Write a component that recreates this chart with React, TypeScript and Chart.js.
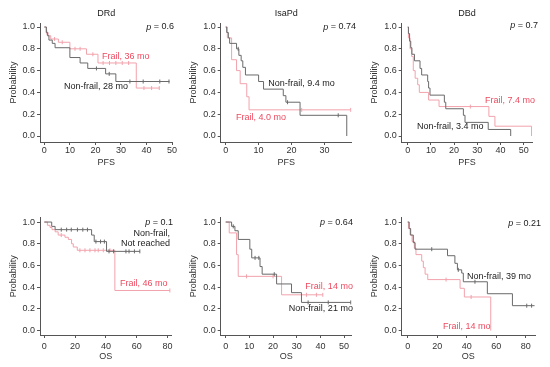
import React, { useEffect, useRef } from "react";
import { Chart, registerables } from "chart.js";
Chart.register(...registerables);

const FONT = "'Liberation Sans', Arial, sans-serif";
const GRAY = "#6a6a6a";
const PINK = "#f2a2ac";
const PINK_TEXT = "#ee4b60";
const TEXT = "#222222";
const AXIS = "#555555";

// ---------- Tick labels ----------
const yTicks = [0, 0.2, 0.4, 0.6, 0.8, 1.0];
const ticks0to50 = [0, 10, 20, 30, 40, 50];
const ticks0to30 = [0, 10, 20, 30];
const ticks0to80 = [0, 20, 40, 60, 80];

// ---------- DRd PFS ----------
const drdPfsNonT = [0, 0.8, 1.2, 1.8, 3.1, 4.2, 10, 14, 17, 24, 28, 49];
const drdPfsNonS = [1, 0.95, 0.92, 0.88, 0.85, 0.81, 0.72, 0.67, 0.62, 0.57, 0.5, 0.5];
const drdPfsNonC = [20.4, 25.4, 33.5, 38.7, 45.2, 48.8];
const drdPfsFrT = [0, 0.7, 1.5, 2.5, 5.5, 10, 16.5, 21, 36, 45];
const drdPfsFrS = [1, 0.95, 0.92, 0.89, 0.86, 0.8, 0.75, 0.67, 0.44, 0.44];
const drdPfsFrC = [1, 4, 7, 12, 14, 19, 23, 25.5, 28, 30.5, 33, 39, 42, 45];

// ---------- IsaPd PFS ----------
const isaPfsNonT = [0, 0.3, 0.8, 1.2, 3.3, 4.0, 4.7, 5.2, 6.0, 10.0, 11.5, 17.5, 18.3, 22.6, 36.8];
const isaPfsNonS = [1, 0.95, 0.9, 0.85, 0.8, 0.74, 0.69, 0.63, 0.56, 0.5, 0.43, 0.37, 0.31, 0.19, 0];
const isaPfsNonC = [3.8, 18.8, 34.2];
const isaPfsFrT = [0, 0.5, 1.8, 3.3, 4.4, 6.4, 7.1, 38];
const isaPfsFrS = [1, 0.9, 0.7, 0.6, 0.48, 0.36, 0.24, 0.24];
const isaPfsFrC = [23.1, 38];

// ---------- DBd PFS ----------
const dbdPfsNonT = [0, 0.3, 0.8, 1.3, 1.8, 2.9, 5.3, 6.0, 8.6, 9.0, 9.6, 15.8, 16.4, 24.0, 24.7, 34.7, 44.4];
const dbdPfsNonS = [1, 0.94, 0.87, 0.81, 0.75, 0.69, 0.62, 0.56, 0.5, 0.44, 0.375, 0.31, 0.25, 0.19, 0.125, 0.06, 0];
const dbdPfsNonC: number[] = [];
const dbdPfsFrT = [0, 0.3, 1.0, 1.7, 2.4, 3.2, 4.3, 5.0, 9.0, 13.5, 35.0, 37.6, 53.4];
const dbdPfsFrS = [1, 0.9, 0.8, 0.73, 0.6, 0.53, 0.47, 0.4, 0.33, 0.27, 0.18, 0.09, 0];
const dbdPfsFrC = [27];

// ---------- DRd OS ----------
const drdOsNonT = [0, 4.8, 7.0, 30.7, 32.4, 40.4, 62];
const drdOsNonS = [1, 0.96, 0.93, 0.88, 0.82, 0.73, 0.73];
const drdOsNonC = [11, 14.5, 17.5, 21.5, 25, 28, 33.5, 36.5, 39, 42, 45, 53, 55, 58.5, 62];
const drdOsFrT = [0, 2.0, 3.7, 5.0, 7.0, 9.0, 13.4, 15.6, 17.7, 18.8, 21.4, 45.8, 81.5];
const drdOsFrS = [1, 0.97, 0.95, 0.93, 0.91, 0.88, 0.86, 0.84, 0.8, 0.77, 0.74, 0.37, 0.37];
const drdOsFrC = [11, 23.1, 26.4, 29.6, 32.9, 35, 38.3, 42.6, 81.5];

// ---------- IsaPd OS ----------
const isaOsNonT = [0, 2.5, 3.9, 5.3, 10.2, 11.0, 14.5, 15.4, 21.5, 27.8, 32.0, 52.8];
const isaOsNonS = [1, 0.96, 0.92, 0.84, 0.75, 0.67, 0.59, 0.52, 0.43, 0.35, 0.26, 0.26];
const isaOsNonC = [3.2, 12.4, 14, 20.5, 34.8, 43.3, 52.8];
const isaOsFrT = [0, 1.5, 4.6, 5.3, 23.6, 41];
const isaOsFrS = [1, 0.9, 0.7, 0.5, 0.33, 0.33];
const isaOsFrC = [8.8, 20, 34.1, 38.3, 41];

// ---------- DBd OS ----------
const dbdOsNonT = [0, 1, 2, 3.8, 5, 27, 32, 33.7, 36.6, 37.7, 54, 71, 86];
const dbdOsNonS = [1, 0.94, 0.88, 0.81, 0.75, 0.69, 0.62, 0.56, 0.53, 0.45, 0.34, 0.23, 0.23];
const dbdOsNonC = [16.3, 34.3, 45.6, 80.7, 84];
const dbdOsFrT = [0, 0.5, 1.6, 3, 4.5, 5.6, 9.5, 10.6, 11.8, 13.6, 35.5, 38.4, 56.3];
const dbdOsFrS = [1, 0.94, 0.88, 0.82, 0.76, 0.7, 0.64, 0.58, 0.52, 0.47, 0.39, 0.31, 0];
const dbdOsFrC = [26, 43];

type Curve = { T: number[]; S: number[]; C: number[] };
type Label = { text: string; x: number; y: number; align: CanvasTextAlign; color: string };
type Panel = {
  title?: string; xLabel: string; row: number; col: number;
  xMin: number; xMax: number; areaL: number; areaR: number; xTicks: number[];
  non: Curve; frail: Curve; pText: string; pX: number; pY: number; labels: Label[];
};

const panels: Panel[] = [
  {
    title: "DRd", xLabel: "PFS", row: 0, col: 0, xMin: -1.7, xMax: 50.1, areaL: 40, areaR: 172.3, xTicks: ticks0to50,
    non: { T: drdPfsNonT, S: drdPfsNonS, C: drdPfsNonC }, frail: { T: drdPfsFrT, S: drdPfsFrS, C: drdPfsFrC },
    pText: "0.6", pX: 50.8, pY: 1.0,
    labels: [
      { text: "Frail, 36 mo", x: 22.6, y: 0.725, align: "left", color: PINK_TEXT },
      { text: "Non-frail, 28 mo", x: 7.7, y: 0.45, align: "left", color: TEXT },
    ],
  },
  {
    title: "IsaPd", xLabel: "PFS", row: 0, col: 1, xMin: -1.52, xMax: 38.3, areaL: 220.7, areaR: 351.7, xTicks: ticks0to30,
    non: { T: isaPfsNonT, S: isaPfsNonS, C: isaPfsNonC }, frail: { T: isaPfsFrT, S: isaPfsFrS, C: isaPfsFrC },
    pText: "0.74", pX: 39.6, pY: 1.0,
    labels: [
      { text: "Non-frail, 9.4 mo", x: 12.9, y: 0.486, align: "left", color: TEXT },
      { text: "Frail, 4.0 mo", x: 3.1, y: 0.174, align: "left", color: PINK_TEXT },
    ],
  },
  {
    title: "DBd", xLabel: "PFS", row: 0, col: 2, xMin: -2.6, xMax: 53.8, areaL: 401.7, areaR: 532.5, xTicks: ticks0to50,
    non: { T: dbdPfsNonT, S: dbdPfsNonS, C: dbdPfsNonC }, frail: { T: dbdPfsFrT, S: dbdPfsFrS, C: dbdPfsFrC },
    pText: "0.7", pX: 56.2, pY: 1.01,
    labels: [
      { text: "Frail, 7.4 mo", x: 33.3, y: 0.33, align: "left", color: PINK_TEXT },
      { text: "Non-frail, 3.4 mo", x: 4.0, y: 0.083, align: "left", color: TEXT },
    ],
  },
  {
    xLabel: "OS", row: 1, col: 0, xMin: -2.8, xMax: 82.7, areaL: 40, areaR: 171.7, xTicks: ticks0to80,
    non: { T: drdOsNonT, S: drdOsNonS, C: drdOsNonC }, frail: { T: drdOsFrT, S: drdOsFrS, C: drdOsFrC },
    pText: "0.1", pX: 83.6, pY: 1.0,
    labels: [
      { text: "Non-frail,", x: 81.6, y: 0.898, align: "right", color: TEXT },
      { text: "Not reached", x: 81.6, y: 0.806, align: "right", color: TEXT },
      { text: "Frail, 46 mo", x: 49.2, y: 0.438, align: "left", color: PINK_TEXT },
    ],
  },
  {
    xLabel: "OS", row: 1, col: 1, xMin: -2.1, xMax: 53.2, areaL: 220.7, areaR: 351.7, xTicks: ticks0to50,
    non: { T: isaOsNonT, S: isaOsNonS, C: isaOsNonC }, frail: { T: isaOsFrT, S: isaOsFrS, C: isaOsFrC },
    pText: "0.64", pX: 53.7, pY: 1.0,
    labels: [
      { text: "Frail, 14 mo", x: 53.7, y: 0.402, align: "right", color: PINK_TEXT },
      { text: "Non-frail, 21 mo", x: 53.7, y: 0.2, align: "right", color: TEXT },
    ],
  },
  {
    xLabel: "OS", row: 1, col: 2, xMin: -4.07, xMax: 86.3, areaL: 401.7, areaR: 535, xTicks: ticks0to80,
    non: { T: dbdOsNonT, S: dbdOsNonS, C: dbdOsNonC }, frail: { T: dbdOsFrT, S: dbdOsFrS, C: dbdOsFrC },
    pText: "0.21", pX: 90.4, pY: 0.99,
    labels: [
      { text: "Non-frail, 39 mo", x: 40.2, y: 0.503, align: "left", color: TEXT },
      { text: "Frail, 14 mo", x: 23.9, y: 0.034, align: "left", color: PINK_TEXT },
    ],
  },
];

const COLS = [
  { left: 0, width: 180 },
  { left: 180, width: 181 },
  { left: 361, width: 189 },
];
const ROWS = [
  { top: 0, height: 180, areaTop: 23.2, areaBottom: 142, yMin: -0.055, yMax: 1.035, tickPad: 0, titlePadB: 4.5, titleY: 13.3 },
  { top: 180, height: 187, areaTop: 217.7, areaBottom: 335, yMin: -0.04, yMax: 1.04, tickPad: 3.5, titlePadB: 3.5, titleY: 0 },
];

function survAt(T: number[], S: number[], t: number) {
  let v = S[0];
  for (let i = 0; i < T.length; i++) if (T[i] <= t) v = S[i];
  return v;
}

function curveDatasets(c: Curve, color: string) {
  return [
    {
      type: "line" as const,
      data: c.T.map((t, i) => ({ x: t, y: c.S[i] })),
      borderColor: color,
      borderWidth: 1,
      stepped: "before" as const,
      pointRadius: 0,
      fill: false,
    },
    {
      type: "line" as const,
      data: c.C.map((t) => ({ x: t, y: survAt(c.T, c.S, t) })),
      showLine: false,
      borderColor: color,
      backgroundColor: color,
      borderWidth: 1,
      pointStyle: "line" as const,
      rotation: 90,
      pointRadius: 2,
    },
  ];
}

function KMPanel({ p }: { p: Panel }) {
  const ref = useRef<HTMLCanvasElement>(null);
  const col = COLS[p.col];
  const row = ROWS[p.row];
  useEffect(() => {
    if (!ref.current) return;
    const textPlugin = {
      id: "panelText",
      afterDraw(chart: any) {
        const { ctx, chartArea, scales } = chart;
        ctx.save();
        ctx.textBaseline = "middle";
        ctx.fillStyle = TEXT;
        if (p.title) {
          ctx.font = `9px ${FONT}`;
          ctx.textAlign = "center";
          ctx.fillText(p.title, (chartArea.left + chartArea.right) / 2, row.titleY);
        }
        const px = scales.x.getPixelForValue(p.pX);
        const py = scales.y.getPixelForValue(p.pY);
        const rest = " = " + p.pText;
        ctx.font = `9px ${FONT}`;
        const wRest = ctx.measureText(rest).width;
        ctx.font = `italic 9px ${FONT}`;
        const wP = ctx.measureText("p").width;
        ctx.textAlign = "left";
        ctx.fillText("p", px - wRest - wP, py);
        ctx.font = `9px ${FONT}`;
        ctx.fillText(rest, px - wRest, py);
        for (const l of p.labels) {
          ctx.fillStyle = l.color;
          ctx.textAlign = l.align;
          ctx.fillText(l.text, scales.x.getPixelForValue(l.x), scales.y.getPixelForValue(l.y));
        }
        ctx.restore();
      },
    };
    const tickFont = { family: FONT, size: 9 };
    const chart = new Chart(ref.current, {
      type: "line",
      data: {
        datasets: [...curveDatasets(p.non, GRAY), ...curveDatasets(p.frail, PINK)] as any,
      },
      options: {
        animation: false,
        responsive: false,
        maintainAspectRatio: false,
        events: [],
        layout: {
          padding: {
            left: 0,
            right: col.left + col.width - p.areaR,
            top: row.areaTop - row.top,
            bottom: row.top + row.height - row.areaBottom - 30,
          },
        },
        plugins: { legend: { display: false }, tooltip: { enabled: false }, title: { display: false } },
        scales: {
          x: {
            type: "linear",
            min: p.xMin,
            max: p.xMax,
            afterBuildTicks: (s: any) => {
              s.ticks = p.xTicks.map((v) => ({ value: v }));
            },
            afterFit: (s: any) => {
              s.height = 30;
            },
            ticks: { font: tickFont, color: "#333", padding: row.tickPad, maxRotation: 0, autoSkip: false },
            grid: { display: true, drawOnChartArea: false, drawTicks: true, tickLength: 3, color: AXIS },
            border: { display: true, color: AXIS, width: 1 },
            title: { display: true, text: p.xLabel, font: tickFont, color: "#333", padding: { top: 0, bottom: row.titlePadB } },
          },
          y: {
            type: "linear",
            min: row.yMin,
            max: row.yMax,
            afterBuildTicks: (s: any) => {
              s.ticks = yTicks.map((v) => ({ value: v }));
            },
            afterFit: (s: any) => {
              s.width = p.areaL - col.left;
            },
            ticks: { font: tickFont, color: "#333", padding: 2, callback: (v: any) => Number(v).toFixed(1) },
            grid: { display: true, drawOnChartArea: false, drawTicks: true, tickLength: 3, color: AXIS },
            border: { display: true, color: AXIS, width: 1 },
            title: { display: true, text: "Probability", font: tickFont, color: "#333", padding: { top: 8, bottom: 0 } },
          },
        },
      } as any,
      plugins: [textPlugin],
    });
    return () => chart.destroy();
  }, []);
  return (
    <canvas
      ref={ref}
      width={col.width}
      height={row.height}
      style={{ position: "absolute", left: col.left, top: row.top, width: col.width, height: row.height }}
    />
  );
}

export default function App() {
  return (
    <div style={{ position: "fixed", left: 0, top: 0, width: 550, height: 367, background: "#fff", overflow: "hidden" }}>
      {panels.map((p, i) => (
        <KMPanel key={i} p={p} />
      ))}
    </div>
  );
}
